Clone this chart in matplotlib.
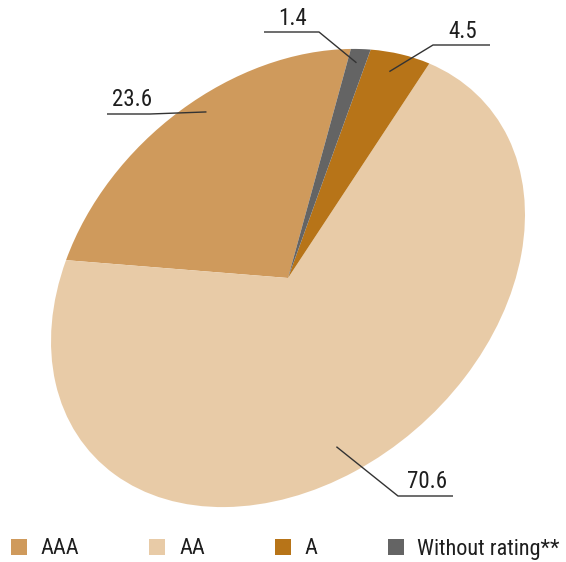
import matplotlib
matplotlib.use('Agg')
import matplotlib.pyplot as plt
import numpy as np
from matplotlib.transforms import Affine2D

plt.rcParams['font.family'] = ['Roboto Condensed', 'Liberation Sans Narrow', 'DejaVu Sans']

# rating shares, %
categories = ['AAA', 'AA', 'A', 'Without rating**']
shares = [23.6, 70.6, 4.5, 1.4]
colors = ['#cf9a5c', '#e8cba7', '#b77418', '#646464']
value_labels = ['23.6', '70.6', '4.5', '1.4']

fig = plt.figure(figsize=(5.66, 5.62), dpi=100)
ax = fig.add_axes([0, 0, 1, 1])

wedges, _ = ax.pie(shares, colors=colors, startangle=41, counterclock=True,
                   radius=1, center=(0, 0), wedgeprops=dict(linewidth=0))

# squash the round pie into a tilted ellipse, in pixel-like coordinates
shape = Affine2D().scale(263.5, 198).rotate_deg(41.5).scale(1, -1).translate(288, 278)
for w in wedges:
    w.set_transform(shape + ax.transData)

ax.set_xlim(0, 566)
ax.set_ylim(562, 0)
ax.set_aspect('auto')
ax.axis('off')

# leader lines: where the tip sits inside the wedge, and the label layout
tip_frac = [0.44, 0.49, 0.55, 0.5]
tip_r = [0.92, 0.85, 0.92, 0.94]
line_y = [114, 496, 45, 32]
line_x = [(107, 150), (453, 398), (490, 433), (264, 319)]
text_xy = [(112, 106), (407, 488), (448, 38), (278, 25)]

for w, lab, fr, r, ly, (x0, x1), (tx, ty) in zip(wedges, value_labels, tip_frac, tip_r,
                                                  line_y, line_x, text_xy):
    ang = np.deg2rad(w.theta1 + fr * (w.theta2 - w.theta1))
    tip = shape.transform((r * np.cos(ang), r * np.sin(ang)))
    ax.plot([x0, x1, tip[0]], [ly, ly, tip[1]], color='#333333', lw=1.0,
            solid_capstyle='butt')
    ax.text(tx, ty, lab, fontsize=16.5, color='#1e1e1e', ha='left', va='baseline')

fig.legend(wedges, categories, loc='center left',
           bbox_to_anchor=(11 / 566, 1 - 549 / 562), ncol=4, frameon=False,
           fontsize=16, handlelength=0.72, handleheight=0.72, handletextpad=0.62,
           columnspacing=3.15, borderpad=0, borderaxespad=0, labelcolor='#1e1e1e')

fig.savefig('out.png', dpi=100)
